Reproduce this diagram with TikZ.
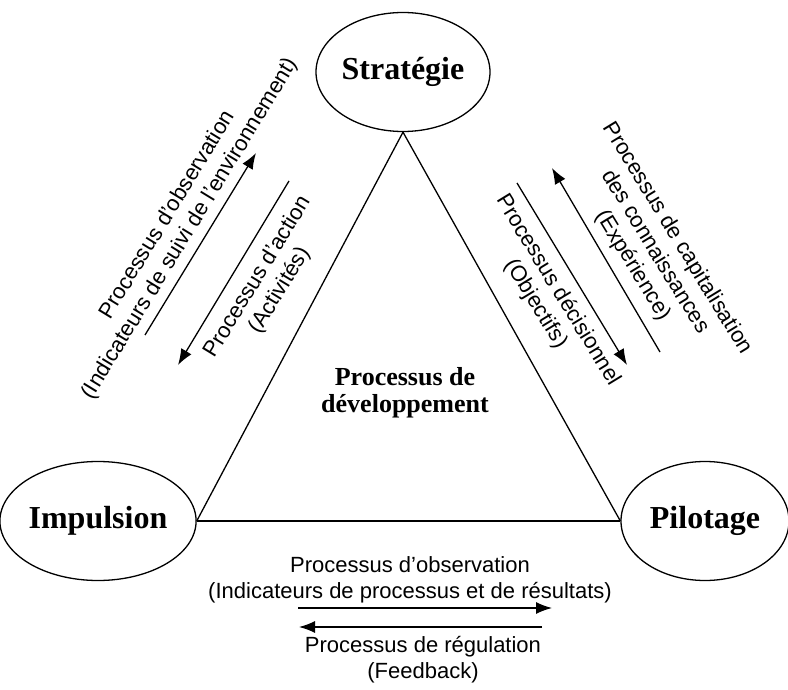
\documentclass[tikz,border=0pt]{standalone}
\usepackage{fontspec}
\setmainfont{Liberation Serif}
\setsansfont{Liberation Sans}
\usetikzlibrary{shapes.geometric, arrows.meta}

\begin{document}
\begin{tikzpicture}[
    x=1pt, y=-1pt,
    pole/.style={ellipse, draw=black, line width=1.3pt, minimum width=174pt, minimum height=119pt, inner sep=0pt, font=\fontsize{32}{36}\selectfont\bfseries},
    edgeline/.style={draw, line width=1.3pt},
    procarrow/.style={draw, line width=1.3pt, -{Latex[length=16pt, width=12pt]}},
    proclabel/.style={align=center, inner sep=0pt, font=\fontsize{22}{26}\selectfont\sffamily},
    centrelabel/.style={align=center, inner sep=0pt, font=\fontsize{26}{27}\selectfont\bfseries}
]

\useasboundingbox (0,0) rectangle (788,690);

% ─── Poles ───────────────────────────────────────────────────────────
\node[pole] (strat) at (403, 72) {Stratégie};
\node[pole] (impul) at (98, 521) {Impulsion};
\node[pole, minimum width=168pt] (pilot) at (705, 521) {Pilotage};

% ─── Triangle ────────────────────────────────────────────────────────
\draw[edgeline] (strat.south) -- (impul.east);
\draw[edgeline] (impul.east) -- (pilot.west);
\draw[edgeline] (pilot.west) -- (strat.south);

\node[centrelabel] (devel) at (405, 393) {Processus de\\développement};

% ─── Left side: Impulsion <-> Strategie ──────────────────────────────
\coordinate (obsL1) at (145, 335);
\coordinate (obsL2) at (256, 153);
\coordinate (actL1) at (289, 181);
\coordinate (actL2) at (178, 365);
\draw[procarrow] (obsL1) -- (obsL2);
\draw[procarrow] (actL1) -- (actL2);
\node[proclabel, rotate=58.6] (obsLlab) at (179, 222) {Processus d'observation\\(Indicateurs de suivi de l’environnement)};
\node[proclabel, rotate=58.6] (actLlab) at (269, 284) {Processus d'action\\(Activités)};

% ─── Right side: Strategie <-> Pilotage ──────────────────────────────
\coordinate (decR1) at (517, 183);
\coordinate (decR2) at (627, 365);
\coordinate (capR1) at (660, 352);
\coordinate (capR2) at (552, 168);
\draw[procarrow] (decR1) -- (decR2);
\draw[procarrow] (capR1) -- (capR2);
\node[proclabel, rotate=-58.6] (decRlab) at (547, 297) {Processus décisionnel\\(Objectifs)};
\node[proclabel, rotate=-58.6] (capRlab) at (655, 252) {Processus de capitalisation\\des connaissances\\(Expérience)};

% ─── Bottom: Impulsion <-> Pilotage ──────────────────────────────────
\coordinate (obsB1) at (298, 608);
\coordinate (obsB2) at (552, 608);
\coordinate (regB1) at (542, 627);
\coordinate (regB2) at (299, 627);
\draw[procarrow] (obsB1) -- (obsB2);
\draw[procarrow] (regB1) -- (regB2);
\node[proclabel] (obsBlab) at (410, 580) {Processus d'observation\\(Indicateurs de processus et de résultats)};
\node[proclabel] (regBlab) at (423, 660) {Processus de régulation\\(Feedback)};

\end{tikzpicture}
\end{document}
